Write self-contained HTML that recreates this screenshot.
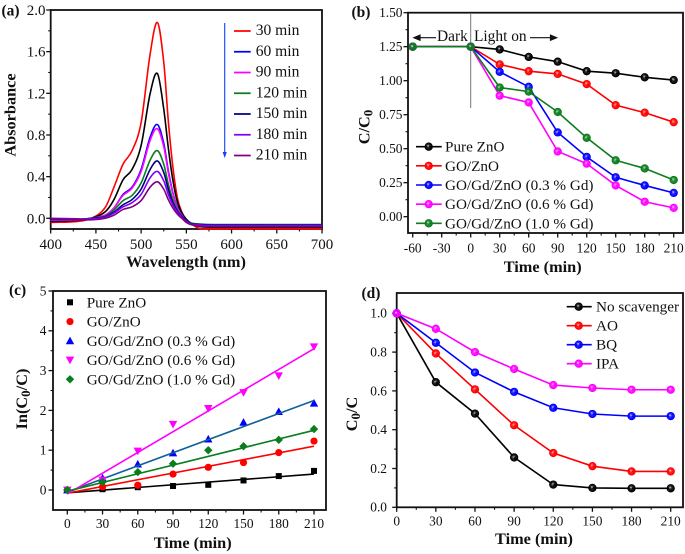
<!DOCTYPE html>
<html lang="en">
<head>
<meta charset="utf-8">
<title>Photocatalysis figure</title>
<style>
html,body{margin:0;padding:0;background:#fff;width:685px;height:554px;overflow:hidden}
svg{display:block;filter:blur(0.35px)}
text{font-family:"Liberation Serif",serif;fill:#111}
.b{font-weight:bold}
</style>
</head>
<body>
<svg id="fig" xmlns="http://www.w3.org/2000/svg" width="685" height="554" viewBox="0 0 685 554">
<defs id="defs"></defs>
</svg>
<script>
// ---------- Panel (a) data ----------
const wavelengths = [400,430,445,460,470,480,490,500,510,518,525,530,535,540,545,550,555,565,580,700];
const specRed     = [-0.04,-0.03,0,0.10,0.30,0.52,0.65,0.92,1.58,1.88,1.50,0.94,0.50,0.20,0.06,-0.01,-0.05,-0.10,-0.10,-0.10];
const specBlack   = [-0.03,-0.02,0,0.06,0.18,0.37,0.47,0.70,1.20,1.39,1.05,0.68,0.37,0.16,0.05,-0.01,-0.045,-0.08,-0.085,-0.085];
const specBlue    = [-0.02,-0.015,0,0.03,0.10,0.23,0.30,0.47,0.78,0.90,0.72,0.46,0.25,0.11,0.03,-0.02,-0.05,-0.06,-0.065,-0.065];
const specMagenta = [-0.02,-0.015,0,0.03,0.10,0.22,0.29,0.45,0.75,0.86,0.69,0.44,0.24,0.10,0.03,-0.02,-0.05,-0.06,-0.065,-0.065];
const specGreen   = [-0.01,-0.01,0,0.02,0.08,0.17,0.22,0.34,0.56,0.65,0.52,0.33,0.18,0.08,0.02,-0.02,-0.045,-0.055,-0.06,-0.06];
const specNavy    = [-0.01,-0.01,0,0.015,0.06,0.13,0.18,0.28,0.47,0.55,0.44,0.28,0.15,0.07,0.02,-0.02,-0.05,-0.06,-0.065,-0.065];
const specViolet  = [0,-0.005,-0.005,0.01,0.05,0.11,0.15,0.23,0.39,0.45,0.36,0.23,0.13,0.06,0.01,-0.03,-0.055,-0.065,-0.07,-0.07];
const specPurple  = [-0.005,-0.01,-0.015,0,0.03,0.085,0.11,0.17,0.30,0.35,0.28,0.18,0.10,0.04,0,-0.04,-0.06,-0.075,-0.08,-0.08];
const legendA     = ["30 min","60 min","90 min","120 min","150 min","180 min","210 min"];
const ticksAx     = [400,450,500,550,600,650,700];
const ticksAy     = [0,0.4,0.8,1.2,1.6,2.0];
const labelsAy    = ["0.0","0.4","0.8","1.2","1.6","2.0"];

// ---------- Panel (b) data ----------
const timesB   = [-60,0,30,60,90,120,150,180,210];
const bPure    = [1.25,1.25,1.23,1.175,1.14,1.07,1.055,1.025,1.005];
const bGO      = [1.25,1.25,1.12,1.07,1.05,0.975,0.82,0.765,0.695];
const bGd03    = [1.25,1.25,1.065,0.955,0.62,0.44,0.29,0.23,0.175];
const bGd06    = [1.25,1.25,0.89,0.84,0.48,0.39,0.23,0.11,0.065];
const bGd10    = [1.25,1.25,0.95,0.92,0.77,0.58,0.415,0.355,0.27];
const ticksBx  = [-60,-30,0,30,60,90,120,150,180,210];
const ticksBy  = [0,0.25,0.5,0.75,1,1.25,1.5];
const labelsBy = ["0.00","0.25","0.50","0.75","1.00","1.25","1.50"];
const seriesNames = ["Pure ZnO","GO/ZnO","GO/Gd/ZnO (0.3 % Gd)","GO/Gd/ZnO (0.6 % Gd)","GO/Gd/ZnO (1.0 % Gd)"];

// ---------- Panel (c) data ----------
const timesC  = [0,30,60,90,120,150,180,210];
const cPure   = [0,0.02,0.07,0.10,0.13,0.24,0.35,0.48];
const cGO     = [0,0.08,0.12,0.40,0.57,0.69,0.94,1.23];
const cGd03   = [0,0.30,0.65,0.93,1.28,1.70,1.97,2.18];
const cGd06   = [0,0.25,0.98,1.65,2.05,2.45,2.87,3.60];
const cGd10   = [0,0.20,0.45,0.66,1.00,1.10,1.26,1.53];
const fitTimes = [0,210];
const fitPure = [-0.07,0.40];
const fitGO   = [-0.08,1.10];
const fitGd03 = [-0.05,2.25];
const fitGd06 = [-0.10,3.55];
const fitGd10 = [-0.03,1.50];
const ticksCx = [0,30,60,90,120,150,180,210];
const ticksCy = [0,1,2,3,4,5];

// ---------- Panel (d) data ----------
const timesD = [0,30,60,90,120,150,180,210];
const dNone  = [1,0.645,0.483,0.257,0.117,0.10,0.098,0.098];
const dAO    = [1,0.793,0.608,0.423,0.28,0.212,0.185,0.185];
const dBQ    = [1,0.848,0.695,0.595,0.513,0.481,0.47,0.47];
const dIPA   = [1,0.92,0.80,0.713,0.63,0.615,0.606,0.606];
const scavengers = ["No scavenger","AO","BQ","IPA"];
const ticksDx = [0,30,60,90,120,150,180,210];
const ticksDy = [0,0.2,0.4,0.6,0.8,1.0];
const labelsDy = ["0.0","0.2","0.4","0.6","0.8","1.0"];

// ---------- Drawing helpers ----------
const NS = "http://www.w3.org/2000/svg";
const fig = document.getElementById("fig");
const defs = document.getElementById("defs");
const BLACK="#000000",RED="#ff0000",BLUE="#0000ff",MAG="#ff00ff",GREEN="#0a7d1c";

function el(tag, name, attrs, parent){
  const e = document.createElementNS(NS, tag);
  
  
  for (const k in attrs) e.setAttribute(k, attrs[k]);
  (parent || fig).appendChild(e);
  return e;
}
function txt(name, str, x, y, size, opts, parent){
  opts = opts || {};
  const a = {x:x, y:y, 'font-size':size};
  if (opts.anchor) a['text-anchor'] = opts.anchor;
  if (opts.bold) a['class'] = 'b';
  if (opts.transform) a.transform = opts.transform;
  const t = el('text', name, a, parent);
  t.textContent = str;
  return t;
}
function linear(d0, d1, p0, p1){ return v => p0 + (v - d0) * (p1 - p0) / (d1 - d0); }
function polyPath(xs, ys, sx, sy){
  return xs.map((v,i)=>(i?'L':'M')+sx(v).toFixed(2)+' '+sy(ys[i]).toFixed(2)).join(' ');
}
function smoothPath(xs, ys, sx, sy){
  const p = xs.map((v,i)=>[sx(v), sy(ys[i])]);
  let d = 'M'+p[0][0].toFixed(2)+' '+p[0][1].toFixed(2);
  for (let i=0;i<p.length-1;i++){
    const a=p[Math.max(i-1,0)], b=p[i], c=p[i+1], e=p[Math.min(i+2,p.length-1)];
    const h=c[0]-b[0];
    const m1=(c[1]-a[1])/((c[0]-a[0])||1), m2=(e[1]-b[1])/((e[0]-b[0])||1);
    d+=' C'+(b[0]+h/3).toFixed(2)+' '+(b[1]+m1*h/3).toFixed(2)+' '+(c[0]-h/3).toFixed(2)+' '+(c[1]-m2*h/3).toFixed(2)+' '+c[0].toFixed(2)+' '+c[1].toFixed(2);
  }
  return d;
}
function gradient(id, color){
  const g = document.createElementNS(NS,'radialGradient');
  g.setAttribute('id',id);
  g.setAttribute('cx','0.42');g.setAttribute('cy','0.42');g.setAttribute('r','0.6');
  [[0,'#ffffff',0.7],[0.35,color,0.85],[1,color,1]].forEach(s=>{
    const st=document.createElementNS(NS,'stop');
    st.setAttribute('offset',s[0]);st.setAttribute('stop-color',s[1]);st.setAttribute('stop-opacity',s[2]);
    g.appendChild(st);
  });
  defs.appendChild(g);
}
gradient('gBlack',BLACK);gradient('gRed',RED);gradient('gBlue',BLUE);gradient('gMag',MAG);gradient('gGreen',GREEN);
const grad={};grad[BLACK]='gBlack';grad[RED]='gRed';grad[BLUE]='gBlue';grad[MAG]='gMag';grad[GREEN]='gGreen';

function sphere(name, cx, cy, color, parent){
  el('circle', name, {cx:cx, cy:cy, r:3.7, fill:'url(#'+grad[color]+')', stroke:color, 'stroke-width':0.9}, parent);
}
function axes(p){
  const g = el('g', p.id+'-axes', {});
  el('rect', p.id+'-plot-frame', {x:p.l, y:p.t, width:p.r-p.l, height:p.b-p.t, fill:'none', stroke:'#111', 'stroke-width':1.8}, g);
  p.xt.forEach(v=>{
    el('line', p.id+'-x-tick', {x1:p.sx(v), x2:p.sx(v), y1:p.b, y2:p.b+4.5, stroke:'#111','stroke-width':1.3}, g);
    txt(p.id+'-x-tick-label', String(v), p.sx(v), p.xtb, p.tf, {anchor:'middle'}, g);
  });
  p.xm.forEach(v=>{
    el('line', p.id+'-x-minor-tick', {x1:p.sx(v), x2:p.sx(v), y1:p.b, y2:p.b+2.5, stroke:'#111','stroke-width':1.1}, g);
  });
  p.yt.forEach((v,i)=>{
    el('line', p.id+'-y-tick', {x1:p.l-4.5, x2:p.l, y1:p.sy(v), y2:p.sy(v), stroke:'#111','stroke-width':1.3}, g);
    txt(p.id+'-y-tick-label', p.yl ? p.yl[i] : String(v), p.ytx, p.sy(v)+p.tf*0.33, p.tf, {anchor:'end'}, g);
  });
  p.ym.forEach(v=>{
    el('line', p.id+'-y-minor-tick', {x1:p.l-2.5, x2:p.l, y1:p.sy(v), y2:p.sy(v), stroke:'#111','stroke-width':1.1}, g);
  });
}
function mids(t){ const o=[]; for(let i=0;i<t.length-1;i++) o.push((t[i]+t[i+1])/2); return o; }
function subTitle(name, a, sub, c, x, y){
  const t = txt(name, '', x, y, 16.3, {anchor:'middle', bold:true, transform:'rotate(-90 '+x+' '+y+')'});
  t.appendChild(document.createTextNode(a));
  const s=document.createElementNS(NS,'tspan');
  s.setAttribute('dy','3');s.setAttribute('font-size','13');s.textContent=sub;
  t.appendChild(s);
  const r=document.createElementNS(NS,'tspan');
  r.setAttribute('dy','-3');r.textContent=c;
  t.appendChild(r);
}

// ---------- Panel (a) ----------
const pa={id:'panel-a',l:50.7,r:322,t:10,b:229,sx:linear(400,700,50.7,322),sy:linear(0,2,218.3,10),
  xt:ticksAx,xm:mids(ticksAx),yt:ticksAy,ym:mids(ticksAy),yl:labelsAy,xtb:249,ytx:45.5,tf:15};
axes(pa);
const specSeries=[[specRed,RED,'30'],[specBlack,BLACK,'0'],[specBlue,BLUE,'60'],[specMagenta,MAG,'90'],
  [specGreen,GREEN,'120'],[specNavy,'#000080','150'],[specViolet,'#8000ff','180'],[specPurple,'#800080','210']];
const gA = el('g','panel-a-spectra',{});
specSeries.forEach(s=>{
  el('path','spectrum-'+s[2]+'-min',{d:smoothPath(wavelengths,s[0],pa.sx,pa.sy),fill:'none',stroke:s[1],'stroke-width':1.6},gA);
});
const legColorsA=[RED,BLUE,MAG,GREEN,'#000080','#8000ff','#800080'];
const gLA = el('g','panel-a-legend',{});
legendA.forEach((name,i)=>{
  const y=30+i*20.75;
  el('line','legend-line-'+name.replace(' ','-'),{x1:234,x2:250.7,y1:y+1,y2:y+1,stroke:legColorsA[i],'stroke-width':1.7},gLA);
  txt('legend-label-'+name.replace(' ','-'),name,255.7,y+5,15.6,{},gLA);
});
el('line','time-arrow-shaft',{x1:224.7,x2:224.7,y1:23,y2:154,stroke:'#1040ff','stroke-width':1.1});
el('path','time-arrow-head',{d:'M222.6 152 L226.8 152 L224.7 158 Z',fill:'#1040ff'});
txt('panel-a-label','(a)',1.5,15.5,15.5,{bold:true});
txt('panel-a-x-title','Wavelength (nm)',186,267,16.3,{anchor:'middle',bold:true});
txt('panel-a-y-title','Absorbance',15.5,115,16.3,{anchor:'middle',bold:true,transform:'rotate(-90 15.5 115)'});

// ---------- Panel (b) ----------
const pb={id:'panel-b',l:408,r:683,t:12.7,b:233,sx:linear(-60,210,412.7,673.7),sy:linear(0,1.5,216.7,12.7),
  xt:ticksBx,xm:mids(ticksBx),yt:ticksBy,ym:mids(ticksBy),yl:labelsBy,xtb:252.5,ytx:402.5,tf:13.4};
axes(pb);
el('line','dark-light-divider',{x1:pb.sx(0),x2:pb.sx(0),y1:13,y2:108,stroke:'#777','stroke-width':1});
const bSeries=[[bPure,BLACK],[bGO,RED],[bGd03,BLUE],[bGd06,MAG],[bGd10,GREEN]];
const gB = el('g','panel-b-series',{});
bSeries.forEach((s,k)=>{
  el('path','b-line-'+k,{d:polyPath(timesB,s[0],pb.sx,pb.sy),fill:'none',stroke:s[1],'stroke-width':1.6},gB);
  timesB.forEach((t,i)=>{
    sphere('b-point-'+k+'-'+t,pb.sx(t),pb.sy(s[0][i]),s[1],gB);
  });
});
const gLB = el('g','panel-b-legend',{});
seriesNames.forEach((name,i)=>{
  const y=146.7+i*19.15;
  el('line','b-legend-line-'+i,{x1:416,x2:441.7,y1:y,y2:y,stroke:bSeries[i][1],'stroke-width':1.6},gLB);
  sphere('b-legend-marker-'+i,428.7,y,bSeries[i][1],gLB);
  txt('b-legend-label-'+i,name,445,y+5,15.2,{},gLB);
});
txt('dark-label','Dark',437,41,15.4);
txt('light-on-label','Light on',474,41,15.4);
el('path','dark-arrow',{d:'M436 37.7 L418 37.7 M414 37.7 L420 35.2 L420 40.2 Z',fill:'#111',stroke:'#111','stroke-width':1.2});
el('path','light-arrow',{d:'M530 37.7 L552 37.7 M556.5 37.7 L550.5 35.2 L550.5 40.2 Z',fill:'#111',stroke:'#111','stroke-width':1.2});
txt('panel-b-label','(b)',351.5,17,15.5,{bold:true});
txt('panel-b-x-title','Time (min)',542.7,272,16.3,{anchor:'middle',bold:true});
subTitle('panel-b-y-title','C/C','0','',369.5,127);

// ---------- Panel (c) ----------
const pc={id:'panel-c',l:53,r:326,t:291,b:510,sx:linear(0,210,67.3,314),sy:linear(0,5,490,291),
  xt:ticksCx,xm:mids(ticksCx),yt:ticksCy,ym:mids(ticksCy),xtb:528,ytx:46.5,tf:13.4};
axes(pc);
const cSeries=[[cPure,BLACK,fitPure,BLACK],[cGO,RED,fitGO,RED],[cGd03,BLUE,fitGd03,'#10609a'],[cGd06,MAG,fitGd06,MAG],[cGd10,GREEN,fitGd10,GREEN]];
function marker(kind,x,y,color,name,parent){
  if(kind===0) el('rect',name,{x:x-3,y:y-3,width:6,height:6,fill:color},parent);
  if(kind===1) el('circle',name,{cx:x,cy:y,r:3.6,fill:color},parent);
  if(kind===2) el('path',name,{d:'M'+x+' '+(y-4.2)+' L'+(x+4.2)+' '+(y+3.4)+' L'+(x-4.2)+' '+(y+3.4)+' Z',fill:color},parent);
  if(kind===3) el('path',name,{d:'M'+x+' '+(y+4.2)+' L'+(x+4.2)+' '+(y-3.4)+' L'+(x-4.2)+' '+(y-3.4)+' Z',fill:color},parent);
  if(kind===4) el('path',name,{d:'M'+x+' '+(y-4.2)+' L'+(x+4.2)+' '+y+' L'+x+' '+(y+4.2)+' L'+(x-4.2)+' '+y+' Z',fill:color},parent);
}
const gC = el('g','panel-c-series',{});
cSeries.forEach((s,k)=>{
  timesC.forEach((t,i)=>{
    marker(k,pc.sx(t),pc.sy(s[0][i]),s[1],'c-point-'+k+'-'+t,gC);
  });
  el('path','c-fit-line-'+k,{d:polyPath(fitTimes,s[2],pc.sx,pc.sy),fill:'none',stroke:s[3],'stroke-width':1.6},gC);
});
const gLC = el('g','panel-c-legend',{});
seriesNames.forEach((name,i)=>{
  const y=302.3+i*19.25;
  marker(i,70,y,cSeries[i][1],'c-legend-marker-'+i,gLC);
  txt('c-legend-label-'+i,name,86.7,y+5,15.2,{},gLC);
});
txt('panel-c-label','(c)',9,295,15.5,{bold:true});
txt('panel-c-x-title','Time (min)',192.7,548,16.3,{anchor:'middle',bold:true});
subTitle('panel-c-y-title','In(C','0','/C)',27,399);

// ---------- Panel (d) ----------
const pd={id:'panel-d',l:396.7,r:683,t:293,b:507.3,sx:linear(0,210,396.7,670.7),sy:linear(0,1,507.3,313.3),
  xt:ticksDx,xm:mids(ticksDx),yt:ticksDy,ym:mids(ticksDy),yl:labelsDy,xtb:525.7,ytx:387,tf:13.4};
axes(pd);
const dSeries=[[dNone,BLACK],[dAO,RED],[dBQ,BLUE],[dIPA,MAG]];
const gD = el('g','panel-d-series',{});
dSeries.forEach((s,k)=>{
  el('path','d-line-'+k,{d:polyPath(timesD,s[0],pd.sx,pd.sy),fill:'none',stroke:s[1],'stroke-width':1.6},gD);
  timesD.forEach((t,i)=>{
    sphere('d-point-'+k+'-'+t,pd.sx(t),pd.sy(s[0][i]),s[1],gD);
  });
});
const gLD = el('g','panel-d-legend',{});
scavengers.forEach((name,i)=>{
  const y=306.7+i*19;
  el('line','d-legend-line-'+i,{x1:566.7,x2:591.7,y1:y,y2:y,stroke:dSeries[i][1],'stroke-width':1.6},gLD);
  sphere('d-legend-marker-'+i,578.7,y,dSeries[i][1],gLD);
  txt('d-legend-label-'+i,name,596,y+5,15.2,{},gLD);
});
txt('panel-d-label','(d)',361.5,298,15.5,{bold:true});
txt('panel-d-x-title','Time (min)',534,544,16.3,{anchor:'middle',bold:true});
subTitle('panel-d-y-title','C','0','/C',357,414);
</script>
</body>
</html>
